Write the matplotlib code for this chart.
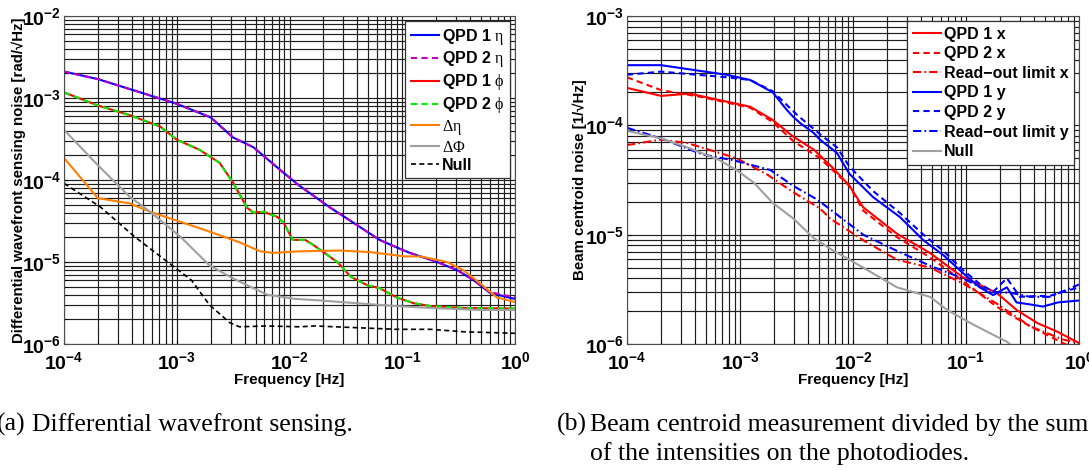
import numpy as np
from matplotlib import pyplot as plt
from matplotlib import ticker

plt.rcParams['font.family'] = ['Liberation Sans', 'DejaVu Sans']
plt.rcParams['mathtext.fontset'] = 'custom'
plt.rcParams['mathtext.rm'] = 'Liberation Serif'
plt.rcParams['mathtext.it'] = 'Liberation Serif:italic'
plt.rcParams['mathtext.bf'] = 'Liberation Sans:bold'

# ---- (a) differential wavefront sensing ----
f_eta = [1e-4, 2e-4, 1e-3, 2e-3, 3.16e-3, 4.8e-3, 8.3e-3, 1.2e-2, 2.3e-2, 4.0e-2,
         6.3e-2, 8.9e-2, 0.117, 0.204, 0.31, 0.43, 0.60, 0.95, 1.0]
qpd1_eta = [2.1e-3, 1.7e-3, 8.5e-4, 5.8e-4, 3.3e-4, 2.5e-4, 1.32e-4, 8.7e-5, 4.6e-5, 2.8e-5,
            1.86e-5, 1.51e-5, 1.29e-5, 1.0e-5, 7.9e-6, 6.0e-6, 4.2e-6, 3.6e-6, 3.55e-6]
qpd2_eta = [2.1e-3, 1.7e-3, 8.5e-4, 5.8e-4, 3.3e-4, 2.5e-4, 1.32e-4, 8.7e-5, 4.6e-5, 2.8e-5,
            1.86e-5, 1.51e-5, 1.29e-5, 1.0e-5, 7.9e-6, 6.0e-6, 4.3e-6, 3.75e-6, 3.7e-6]

f_phi = [1e-4, 2e-4, 3.8e-4, 7.1e-4, 1e-3, 1.58e-3, 2.4e-3, 3.16e-3, 3.7e-3, 4.2e-3,
         4.8e-3, 5.9e-3, 7.8e-3, 8.9e-3, 1.07e-2, 1.38e-2, 1.62e-2, 2.0e-2, 2.7e-2, 3.5e-2,
         4.9e-2, 6.3e-2, 8.9e-2, 0.126, 0.178, 0.35, 1.0]
qpd1_phi = [1.17e-3, 8.1e-4, 6.2e-4, 4.5e-4, 3.1e-4, 2.35e-4, 1.62e-4, 9.3e-5, 6.3e-5, 4.6e-5,
            4.0e-5, 4.1e-5, 3.55e-5, 3.0e-5, 1.86e-5, 1.86e-5, 1.62e-5, 1.32e-5, 9.8e-6, 6.6e-6,
            5.2e-6, 4.8e-6, 3.7e-6, 3.15e-6, 2.9e-6, 2.75e-6, 2.7e-6]

f_deta = [1e-4, 2e-4, 3.8e-4, 5.8e-4, 1.07e-3, 1.95e-3, 3.6e-3, 5.5e-3, 7.1e-3, 1.23e-2,
          2.8e-2, 5.2e-2, 0.105, 0.145, 0.25, 0.35, 0.49, 0.69, 1.0]
d_eta = [1.86e-4, 6.0e-5, 5.2e-5, 4.1e-5, 3.1e-5, 2.35e-5, 1.74e-5, 1.35e-5, 1.29e-5, 1.35e-5,
         1.38e-5, 1.32e-5, 1.17e-5, 1.17e-5, 1.0e-5, 7.9e-6, 5.5e-6, 3.7e-6, 3.25e-6]

f_dphi = [1e-4, 2e-4, 3.8e-4, 5.8e-4, 1.07e-3, 1.95e-3, 3.16e-3, 6.3e-3, 1.12e-2, 1.86e-2,
          4.5e-2, 8.9e-2, 0.178, 0.49, 1.0]
d_phi = [4.1e-4, 1.51e-4, 6.3e-5, 4.1e-5, 2.05e-5, 9.1e-6, 6.3e-6, 4.0e-6, 3.55e-6, 3.4e-6,
         3.1e-6, 2.9e-6, 2.75e-6, 2.6e-6, 2.6e-6]

f_null_a = [1e-4, 2.1e-4, 4.2e-4, 8.3e-4, 1.35e-3, 1.95e-3, 2.95e-3, 3.6e-3, 6.3e-3, 1.23e-2,
            1.66e-2, 8.9e-2, 0.178, 0.35, 1.0]
null_a = [9.1e-5, 4.7e-5, 2.05e-5, 1.0e-5, 6.0e-6, 3.0e-6, 1.82e-6, 1.62e-6, 1.66e-6, 1.62e-6,
          1.66e-6, 1.51e-6, 1.51e-6, 1.41e-6, 1.35e-6]

# ---- (b) beam centroid ----
f_qpd1x = [1e-4, 2e-4, 3.6e-4, 1.23e-3, 1.95e-3, 2.95e-3, 4.5e-3, 6.6e-3, 9.3e-3, 1.23e-2,
           2.45e-2, 4.8e-2, 9.3e-2, 0.186, 0.28, 0.43, 0.65, 1.0]
qpd1_x = [2.2e-4, 1.86e-4, 1.95e-4, 1.48e-4, 1.12e-4, 7.9e-5, 6.0e-5, 4.1e-5, 2.8e-5, 1.78e-5,
          1.02e-5, 6.8e-6, 4.1e-6, 2.95e-6, 2.05e-6, 1.55e-6, 1.29e-6, 1.02e-6]

f_qpd2x = [1e-4, 2e-4, 4.5e-4, 1.23e-3, 1.95e-3, 2.95e-3, 5.1e-3, 9.3e-3, 1.23e-2, 2.45e-2,
           4.8e-2, 9.3e-2, 0.186, 0.37, 0.72, 1.0]
qpd2_x = [2.75e-4, 2.1e-4, 1.82e-4, 1.45e-4, 1.07e-4, 7.2e-5, 5.0e-5, 2.8e-5, 1.66e-5, 9.5e-6,
          6.2e-6, 3.8e-6, 2.2e-6, 1.45e-6, 1.02e-6, 8.9e-7]

f_rox = [1e-4, 2e-4, 3.4e-4, 9.3e-4, 1.74e-3, 2.95e-3, 5.1e-3, 6.3e-3, 1.23e-2, 2.45e-2,
         4.8e-2, 9.3e-2, 0.186, 0.37, 0.72, 1.0]
ro_x = [6.6e-5, 7.4e-5, 6.9e-5, 5.0e-5, 3.55e-5, 2.45e-5, 1.74e-5, 1.4e-5, 8.9e-6, 5.9e-6,
        5.0e-6, 3.6e-6, 2.35e-6, 1.45e-6, 1.1e-6, 1.02e-6]

f_qpd1y = [1e-4, 2e-4, 7.6e-4, 1.23e-3, 1.95e-3, 2.6e-3, 2.95e-3, 3.4e-3, 4.5e-3, 5.1e-3,
           7.2e-3, 9.3e-3, 1.51e-2, 2.6e-2, 4.2e-2, 6.3e-2, 9.3e-2, 0.132, 0.174, 0.23,
           0.28, 0.37, 0.48, 0.65, 1.0]
qpd1_y = [3.55e-4, 3.55e-4, 2.9e-4, 2.6e-4, 2.0e-4, 1.38e-4, 1.2e-4, 1.05e-4, 8.5e-5, 7.4e-5,
          5.6e-5, 3.6e-5, 2.2e-5, 1.45e-5, 8.9e-6, 6.5e-6, 4.5e-6, 3.3e-6, 2.8e-6, 3.3e-6,
          2.4e-6, 2.3e-6, 2.2e-6, 2.4e-6, 2.5e-6]

f_qpd2y = [1e-4, 2e-4, 7.6e-4, 1.23e-3, 1.95e-3, 3.16e-3, 5.1e-3, 7.2e-3, 9.3e-3, 1.51e-2,
           2.6e-2, 4.2e-2, 6.3e-2, 9.3e-2, 0.132, 0.174, 0.23, 0.30, 0.43, 0.55, 1.0]
qpd2_y = [2.9e-4, 3.1e-4, 2.75e-4, 2.6e-4, 2.05e-4, 1.26e-4, 8.3e-5, 6.3e-5, 4.2e-5, 2.5e-5,
          1.58e-5, 1.0e-5, 7.1e-6, 4.8e-6, 3.55e-6, 3.0e-6, 4.0e-6, 2.7e-6, 2.75e-6, 2.75e-6, 3.3e-6]

f_roy = [1e-4, 2e-4, 4.7e-4, 8.7e-4, 1.86e-3, 2.95e-3, 4.8e-3, 6.3e-3, 1.23e-2, 2.45e-2,
         4.8e-2, 9.3e-2, 0.162, 0.245, 0.37, 0.55, 1.0]
ro_y = [9.5e-5, 7.6e-5, 5.4e-5, 4.8e-5, 3.9e-5, 2.8e-5, 2.1e-5, 1.7e-5, 1.0e-5, 7.1e-6,
        5.2e-6, 4.0e-6, 3.0e-6, 2.95e-6, 2.7e-6, 2.7e-6, 3.5e-6]

f_null_b = [1e-4, 2e-4, 3.4e-4, 6.6e-4, 9.3e-4, 1.32e-3, 1.95e-3, 2.95e-3, 4.5e-3, 6.6e-3,
            9.3e-3, 1.23e-2, 2.45e-2, 4.8e-2, 6.8e-2, 0.11, 0.162, 0.23, 0.28]
null_b = [8.9e-5, 7.6e-5, 6.3e-5, 4.8e-5, 3.9e-5, 3.0e-5, 1.95e-5, 1.41e-5, 9.3e-6, 7.2e-6,
          5.9e-6, 5.0e-6, 3.3e-6, 2.7e-6, 2.05e-6, 1.55e-6, 1.26e-6, 1.05e-6, 8.9e-7]

ORANGE = '#ff8000'
GREY = '#a0a0a0'
LW = 1.5
DASH = (0, (3, 2))
DASHDOT = (0, (4, 1.5, 0.8, 1.5))


def decade_fmt(v, pos):
    return r'$\mathbf{10^{%d}}$' % int(round(np.log10(v)))


def setup(ax, ylim):
    ax.set_xscale('log')
    ax.set_yscale('log')
    ax.set_xlim(1e-4, 1)
    ax.set_ylim(*ylim)
    for axis in (ax.xaxis, ax.yaxis):
        axis.set_major_locator(ticker.LogLocator(base=10, numticks=20))
        axis.set_minor_locator(ticker.LogLocator(base=10, subs=np.arange(2, 10), numticks=100))
        axis.set_major_formatter(ticker.FuncFormatter(decade_fmt))
        axis.set_minor_formatter(ticker.NullFormatter())
    ax.grid(True, which='both', color='0.12', lw=0.85)
    ax.set_axisbelow(True)
    ax.tick_params(which='both', direction='in', labelsize=14, length=3)
    ax.tick_params(axis='x', pad=5)
    ax.tick_params(axis='y', pad=2)
    for s in ax.spines.values():
        s.set_color('0.3')
    ax.set_xlabel('Frequency [Hz]', fontsize=11, fontweight='bold')
    ax.xaxis.set_label_coords(0.5, -0.088)


def add_legend(ax, spacing):
    leg = ax.legend(loc='upper right', bbox_to_anchor=(0.989, 0.985), borderaxespad=0,
                    fancybox=False, edgecolor='0.2', framealpha=1,
                    handlelength=1.75, handletextpad=0.2, labelspacing=spacing,
                    borderpad=0.35, prop={'weight': 'bold', 'size': 11.5})
    leg.get_frame().set_linewidth(0.9)
    return leg


fig = plt.figure(figsize=(10.89, 4.70), dpi=100)
ax1 = fig.add_axes([64 / 1089, 126 / 470, 451 / 1089, 328 / 470])
ax2 = fig.add_axes([627 / 1089, 126 / 470, 452 / 1089, 328 / 470])

# (a)
setup(ax1, (1e-6, 1e-2))
ax1.plot(f_eta, qpd1_eta, color='b', lw=LW, label=r'QPD 1 $\mathrm{\eta}$')
ax1.plot(f_eta, qpd2_eta, color='m', lw=LW, ls=DASH, label=r'QPD 2 $\mathrm{\eta}$')
ax1.plot(f_phi, qpd1_phi, color='r', lw=LW, label=r'QPD 1 $\mathrm{\phi}$')
ax1.plot(f_phi, qpd1_phi, color='#00ee00', lw=LW, ls=DASH, label=r'QPD 2 $\mathrm{\phi}$')
ax1.plot(f_deta, d_eta, color=ORANGE, lw=LW, label=r'$\mathrm{\Delta\eta}$')
ax1.plot(f_dphi, d_phi, color=GREY, lw=LW, label=r'$\mathrm{\Delta\Phi}$')
ax1.plot(f_null_a, null_a, color='k', lw=1.2, ls=DASH, label='Null')
ax1.set_ylabel('Differential wavefront sensing noise [rad/\u221aHz]', fontsize=10.8, fontweight='bold')
ax1.yaxis.set_label_coords(-0.085, 0.5)
add_legend(ax1, 0.18)

# (b)
setup(ax2, (1e-6, 1e-3))
ax2.plot(f_qpd1x, qpd1_x, color='r', lw=LW, label='QPD 1 x')
ax2.plot(f_qpd2x, qpd2_x, color='r', lw=LW, ls=DASH, label='QPD 2 x')
ax2.plot(f_rox, ro_x, color='r', lw=LW, ls=DASHDOT, label='Read\u2212out limit x')
ax2.plot(f_qpd1y, qpd1_y, color='b', lw=LW, label='QPD 1 y')
ax2.plot(f_qpd2y, qpd2_y, color='b', lw=LW, ls=DASH, label='QPD 2 y')
ax2.plot(f_roy, ro_y, color='b', lw=LW, ls=DASHDOT, label='Read\u2212out limit y')
ax2.plot(f_null_b, null_b, color=GREY, lw=LW, label='Null')
ax2.set_ylabel('Beam centroid noise [1/\u221aHz]', fontsize=10.8, fontweight='bold')
ax2.yaxis.set_label_coords(-0.088, 0.5)
add_legend(ax2, 0.29)

# captions
cap = dict(family=['Liberation Serif', 'DejaVu Serif'], fontsize=18.5, va='baseline')
fig.text(-3 / 1089, 1 - 431 / 470, '(a)', **cap)
fig.text(32 / 1089, 1 - 431 / 470, 'Differential wavefront sensing.', **cap)
fig.text(557 / 1089, 1 - 431 / 470, '(b)', **cap)
fig.text(590 / 1089, 1 - 431 / 470, 'Beam centroid measurement divided by the sum', **cap)
fig.text(590 / 1089, 1 - 460 / 470, 'of the intensities on the photodiodes.', **cap)

fig.savefig('out.png', dpi=100)
